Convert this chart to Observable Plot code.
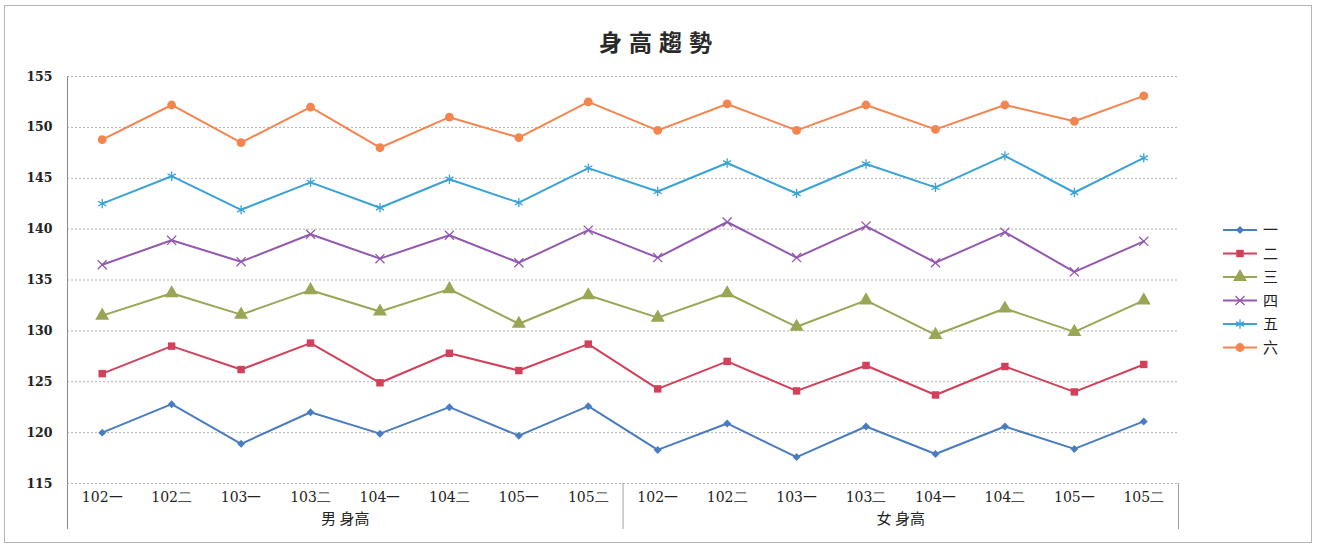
<!DOCTYPE html>
<html>
<head>
<meta charset="utf-8">
<script src="https://cdn.jsdelivr.net/npm/d3@7"></script>
<script src="https://cdn.jsdelivr.net/npm/@observablehq/plot@0.6"></script>
<style>
  body { margin: 0; background: #fff; width: 1318px; height: 547px; overflow: hidden; position: relative; }
  #frame { position: absolute; left: 4px; top: 5px; width: 1308px; height: 538px; border: 1px solid #b4b4b4; box-sizing: border-box; }
  #title { position: absolute; left: 0; top: 24px; width: 1318px; text-align: center;
           font: bold 23px "Noto Sans CJK TC", sans-serif; letter-spacing: 7px; color: #2a2a2a; }
  #chart { position: absolute; left: 0; top: 60px; }
  #legend { position: absolute; left: 1210px; top: 215px; }
</style>
</head>
<body>
<div id="frame"></div>
<div id="title">身高趨勢</div>
<div id="chart"></div>
<div id="legend"></div>
<script>
// Semester labels within each group, and the two groups along the x axis
const periods = ["102一", "102二", "103一", "103二", "104一", "104二", "105一", "105二"];
const groups = ["男 身高", "女 身高"];

// Grade series (一 … 六)
const seriesNames = ["一", "二", "三", "四", "五", "六"];

// Heights per grade: 8 semesters for boys followed by 8 for girls
const grade1 = [120.0, 122.8, 118.9, 122.0, 119.9, 122.5, 119.7, 122.6, 118.3, 120.9, 117.6, 120.6, 117.9, 120.6, 118.4, 121.1];
const grade2 = [125.8, 128.5, 126.2, 128.8, 124.9, 127.8, 126.1, 128.7, 124.3, 127.0, 124.1, 126.6, 123.7, 126.5, 124.0, 126.7];
const grade3 = [131.5, 133.7, 131.6, 134.0, 131.9, 134.1, 130.7, 133.5, 131.3, 133.7, 130.4, 133.0, 129.6, 132.2, 129.9, 133.0];
const grade4 = [136.5, 138.9, 136.8, 139.5, 137.1, 139.4, 136.7, 139.9, 137.2, 140.7, 137.2, 140.3, 136.7, 139.7, 135.8, 138.8];
const grade5 = [142.5, 145.2, 141.9, 144.6, 142.1, 144.9, 142.6, 146.0, 143.7, 146.5, 143.5, 146.4, 144.1, 147.2, 143.6, 147.0];
const grade6 = [148.8, 152.2, 148.5, 152.0, 148.0, 151.0, 149.0, 152.5, 149.7, 152.3, 149.7, 152.2, 149.8, 152.2, 150.6, 153.1];

// Y axis ticks
const yTicks = [115, 120, 125, 130, 135, 140, 145, 150, 155];

// Styling per series
const seriesColors = ["#4a7cc0", "#d2405a", "#9aa556", "#9358b0", "#3aa3d6", "#f5854f"];
const markerShapes = ["diamond2", "square", "triangle", "times", "asterisk", "circle"];
const markerFilled = [true, true, true, false, false, true];
const markerRadius = [3.6, 4.2, 5.2, 4.2, 4.4, 4.4];
const d3Symbols = {
  diamond2: d3.symbolDiamond2, square: d3.symbolSquare, triangle: d3.symbolTriangle,
  times: d3.symbolTimes, asterisk: d3.symbolAsterisk, circle: d3.symbolCircle
};

const allValues = [grade1, grade2, grade3, grade4, grade5, grade6];
const n = periods.length;

// Long-format rows for the marks
const rows = [];
seriesNames.forEach((s, si) => allValues[si].forEach((v, i) => rows.push({series: s, si, i, v})));

// Category positions along x and their labels
const cats = groups.flatMap((g, gi) => periods.map((p, pi) => ({i: gi * n + pi, label: p, group: g})));
const groupCenters = groups.map((g, gi) => ({group: g, mid: gi * n + (n - 1) / 2}));
const groupEdges = groups.map((g, gi) => gi * n - 0.5).concat([groups.length * n - 0.5]);

const serifFont = "'DejaVu Serif', 'Liberation Serif', serif";

const marks = [
  // dashed horizontal gridlines
  Plot.ruleY(yTicks, {stroke: "#b0b0b0", strokeDasharray: "2,2", strokeWidth: 1}),
  // y tick labels
  Plot.axisY({ticks: yTicks, tickSize: 0, tickPadding: 15, fontSize: 12.5, fontWeight: "bold",
              fontFamily: serifFont, fill: "#222", label: null}),
  // category labels
  Plot.axisX({ticks: cats.map(d => d.i), tickFormat: i => cats[i].label, tickSize: 0, tickPadding: 9,
              fontSize: 14, fontFamily: serifFont, fill: "#222", label: null}),
  // left axis line down through the category area
  Plot.ruleX(groupEdges.slice(0, 1), {stroke: "#8a8a8a", strokeWidth: 1, insetBottom: -46}),
  // group separators below the axis
  Plot.ruleX(groupEdges.slice(1), {y1: yTicks[0], y2: yTicks[0], stroke: "#a0a0a0", strokeWidth: 1, insetBottom: -46}),
  // group labels
  Plot.text(groupCenters, {x: "mid", text: "group", frameAnchor: "bottom", dy: 40, fontSize: 15,
                           fontFamily: "'Noto Sans CJK TC', sans-serif", fill: "#222"}),
  // series lines
  Plot.line(rows, {x: "i", y: "v", z: "series", stroke: "series", strokeWidth: 2})
];

// markers, one mark per series
seriesNames.forEach((s, si) => {
  const data = rows.filter(d => d.si === si);
  const opts = {x: "i", y: "v", symbol: markerShapes[si], r: markerRadius[si]};
  if (markerFilled[si]) { opts.fill = seriesColors[si]; }
  else { opts.stroke = seriesColors[si]; opts.strokeWidth = 1.3; }
  marks.push(Plot.dot(data, opts));
});

const chart = Plot.plot({
  width: 1318,
  height: 487,
  marginLeft: 67,
  marginRight: 140,
  marginTop: 16,
  marginBottom: 64,
  x: {type: "linear", domain: [groupEdges[0], groupEdges[groupEdges.length - 1]], axis: null},
  y: {domain: [yTicks[0], yTicks[yTicks.length - 1]], axis: null},
  color: {domain: seriesNames, range: seriesColors},
  style: {background: "transparent", overflow: "visible"},
  marks
});
document.getElementById("chart").appendChild(chart);

// Legend: line sample with marker and series name
const rowH = 23.5;
const lg = d3.select("#legend").append("svg")
  .attr("width", 100).attr("height", seriesNames.length * rowH + 10);
seriesNames.forEach((s, si) => {
  const g = lg.append("g").attr("transform", `translate(0,${15 + si * rowH})`);
  g.append("line").attr("x1", 13).attr("x2", 47).attr("y1", 0).attr("y2", 0)
    .attr("stroke", seriesColors[si]).attr("stroke-width", 2);
  const size = Math.PI * markerRadius[si] * markerRadius[si];
  const p = g.append("path").attr("transform", "translate(30,0)")
    .attr("d", d3.symbol(d3Symbols[markerShapes[si]], size)());
  if (markerFilled[si]) p.attr("fill", seriesColors[si]);
  else p.attr("fill", "none").attr("stroke", seriesColors[si]).attr("stroke-width", 1.3);
  g.append("text").attr("x", 53).attr("y", 0).attr("dy", "0.35em")
    .attr("font-family", "'Noto Sans CJK TC', sans-serif").attr("font-size", 15).attr("fill", "#222")
    .text(s);
});
</script>
</body>
</html>
